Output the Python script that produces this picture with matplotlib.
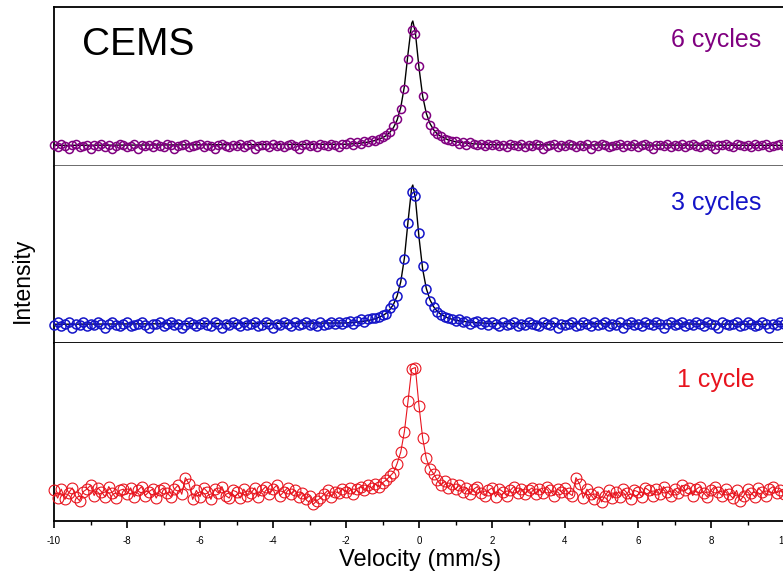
import numpy as np
import matplotlib
matplotlib.use("Agg")
import matplotlib.pyplot as plt
from matplotlib.ticker import MultipleLocator

plt.rcParams['font.family'] = ['Liberation Sans', 'DejaVu Sans']
plt.rcParams['axes.unicode_minus'] = False

# velocity channels, -10 .. 10 mm/s in 0.1 steps
velocity = np.linspace(-10, 10, 201)

# normalised CEMS counts (baseline 0, fitted peak 1)
cycles6 = [
    0.01, -0.01, 0.02, 0.00, -0.02, 0.01, 0.02, -0.01, 0.00, 0.01,
    -0.02, 0.01, 0.00, 0.02, -0.01, 0.01, -0.02, 0.00, 0.02, 0.01,
    -0.01, 0.00, 0.02, -0.02, 0.01, 0.00, 0.01, -0.01, 0.02, 0.00,
    -0.01, 0.02, 0.01, -0.02, 0.00, 0.01, 0.02, -0.01, 0.00, 0.01,
    0.02, -0.01, 0.01, 0.00, -0.02, 0.01, 0.02, 0.00, -0.01, 0.01,
    0.00, 0.02, -0.01, 0.01, 0.02, -0.02, 0.00, 0.01, 0.01, -0.01,
    0.02, 0.00, 0.01, -0.01, 0.01, 0.02, 0.00, -0.02, 0.01, 0.02,
    0.00, 0.01, -0.01, 0.02, 0.01, 0.00, 0.02, 0.01, -0.01, 0.02,
    0.02, 0.03, 0.01, 0.03, 0.02, 0.04, 0.03, 0.05, 0.04, 0.06,
    0.07, 0.09, 0.11, 0.16, 0.22, 0.30, 0.46, 0.70, 0.93, 0.90,
    0.64, 0.40, 0.25, 0.17, 0.12, 0.10, 0.08, 0.06, 0.05, 0.04,
    0.04, 0.02, 0.03, 0.01, 0.03, 0.02, 0.01, 0.02, 0.00, 0.02,
    0.01, 0.02, 0.00, 0.01, -0.01, 0.02, 0.01, 0.00, 0.02, -0.01,
    0.01, 0.00, 0.02, 0.01, -0.02, 0.00, 0.01, 0.02, -0.01, 0.01,
    0.00, 0.02, 0.01, -0.01, 0.01, 0.00, 0.02, -0.02, 0.01, 0.00,
    0.02, 0.01, -0.01, 0.00, 0.01, 0.02, -0.01, 0.01, 0.00, 0.02,
    -0.01, 0.01, 0.02, 0.00, -0.02, 0.01, 0.01, 0.00, 0.02, -0.01,
    0.01, 0.00, 0.02, -0.01, 0.01, 0.02, 0.00, -0.01, 0.01, 0.02,
    0.00, -0.02, 0.01, 0.01, 0.02, 0.00, -0.01, 0.02, 0.01, 0.00,
    0.01, -0.01, 0.02, 0.00, 0.01, 0.02, -0.01, 0.00, 0.01, 0.02, 0.00,
]

cycles3 = [
    0.00, 0.02, -0.01, 0.01, 0.02, -0.02, 0.01, 0.00, 0.02, -0.01,
    0.01, 0.00, 0.02, 0.01, -0.02, 0.01, 0.02, 0.00, -0.01, 0.01,
    0.02, -0.01, 0.00, 0.01, 0.02, 0.00, -0.02, 0.01, 0.01, 0.02,
    -0.01, 0.01, 0.02, 0.00, 0.01, -0.02, 0.00, 0.02, 0.01, -0.01,
    0.01, 0.02, 0.00, -0.01, 0.02, 0.01, -0.02, 0.01, 0.00, 0.02,
    0.01, -0.01, 0.02, 0.00, 0.01, 0.02, -0.01, 0.00, 0.02, 0.01,
    -0.02, 0.01, 0.00, 0.02, 0.01, -0.01, 0.02, 0.00, 0.01, 0.02,
    0.00, 0.01, -0.01, 0.02, 0.00, 0.01, 0.02, 0.01, 0.02, 0.01,
    0.02, 0.03, 0.01, 0.03, 0.04, 0.02, 0.04, 0.05, 0.05, 0.06,
    0.07, 0.08, 0.12, 0.15, 0.21, 0.31, 0.47, 0.73, 0.95, 0.92,
    0.66, 0.42, 0.26, 0.17, 0.13, 0.09, 0.07, 0.06, 0.05, 0.04,
    0.03, 0.04, 0.02, 0.03, 0.01, 0.02, 0.03, 0.01, 0.02, 0.00,
    0.02, 0.01, -0.01, 0.02, 0.00, 0.01, 0.02, -0.01, 0.01, 0.00,
    0.02, 0.01, 0.00, -0.01, 0.02, 0.01, 0.00, 0.02, -0.02, 0.01,
    0.00, 0.01, 0.02, -0.01, 0.00, 0.02, 0.01, -0.01, 0.02, 0.00,
    0.01, 0.02, -0.01, 0.01, 0.00, 0.02, -0.02, 0.01, 0.02, 0.00,
    0.01, -0.01, 0.02, 0.01, 0.00, 0.02, 0.01, -0.02, 0.01, 0.02,
    0.00, 0.01, 0.02, -0.01, 0.01, 0.00, 0.02, 0.01, -0.01, 0.02,
    0.01, 0.00, -0.02, 0.02, 0.01, 0.00, 0.01, 0.02, -0.01, 0.00,
    0.02, 0.01, -0.01, 0.00, 0.02, 0.01, -0.02, 0.01, 0.00, 0.02, 0.01,
]

cycles1 = [
    0.02, -0.04, 0.03, -0.05, 0.00, 0.04, -0.03, -0.06, 0.01, 0.03,
    0.06, -0.02, 0.04, 0.01, -0.03, 0.05, 0.00, -0.04, 0.02, 0.03,
    -0.01, 0.04, -0.03, 0.02, 0.05, -0.02, 0.01, 0.03, -0.04, 0.02,
    0.04, 0.00, -0.03, 0.03, 0.06, -0.01, 0.12, 0.07, -0.05, 0.02,
    -0.03, 0.04, 0.01, -0.05, 0.03, 0.00, 0.05, -0.02, -0.04, 0.02,
    0.01, -0.04, 0.03, -0.02, 0.00, 0.04, -0.03, 0.02, 0.05, -0.01,
    0.03, 0.06, -0.02, 0.01, 0.04, -0.01, 0.02, -0.03, 0.00, -0.05,
    -0.02, -0.09, -0.06, -0.04, -0.01, 0.02, -0.03, 0.01, 0.00, 0.03,
    0.01, 0.04, -0.01, 0.03, 0.05, 0.02, 0.06, 0.04, 0.07, 0.05,
    0.08, 0.10, 0.13, 0.16, 0.23, 0.32, 0.48, 0.72, 0.97, 0.98,
    0.68, 0.43, 0.27, 0.19, 0.15, 0.10, 0.06, 0.09, 0.04, 0.07,
    0.03, 0.06, 0.01, 0.04, -0.01, 0.03, 0.05, 0.00, -0.02, 0.02,
    0.04, -0.03, 0.03, 0.01, -0.02, 0.02, 0.05, 0.00, 0.03, -0.01,
    0.02, 0.04, -0.01, 0.03, 0.00, 0.05, 0.02, -0.02, 0.03, 0.01,
    0.04, 0.00, -0.02, 0.12, 0.07, -0.04, 0.03, -0.01, -0.05, 0.01,
    -0.07, -0.02, 0.02, -0.04, 0.01, -0.03, 0.03, 0.00, -0.05, 0.02,
    0.01, -0.03, 0.04, 0.02, -0.02, 0.03, -0.01, 0.05, 0.01, -0.02,
    0.03, 0.00, 0.06, 0.02, 0.04, -0.02, 0.03, 0.05, 0.00, -0.03,
    0.02, 0.05, 0.01, -0.02, 0.03, -0.01, -0.04, 0.02, -0.06, -0.02,
    0.03, 0.00, -0.03, 0.04, 0.01, -0.02, 0.03, 0.05, 0.00, 0.02, -0.01,
]

# single-line fit (Lorentzian singlet)
fit_v = [-10.0, -2.0, -1.8, -1.6, -1.4, -1.2, -1.0, -0.9, -0.8, -0.7, -0.6,
         -0.5, -0.4, -0.3, -0.2, -0.17, -0.1, 0.0, 0.1, 0.2, 0.3, 0.4, 0.5,
         0.6, 0.8, 1.0, 1.4, 2.0, 10.0]
fit_y = [0.005, 0.014, 0.018, 0.023, 0.031, 0.044, 0.066, 0.083, 0.109, 0.147,
         0.207, 0.308, 0.478, 0.741, 0.982, 1.0, 0.908, 0.626, 0.399, 0.261,
         0.180, 0.130, 0.097, 0.076, 0.049, 0.034, 0.019, 0.010, 0.005]

W, H = 783, 571
fig = plt.figure(figsize=(W / 100, H / 100), dpi=100)

left = 54 / W
width = 730 / W
# (top px, bottom px, ylim, data, colour, marker size, edge width, label)
panels = [
    (7, 166, (-0.16, 1.112), cycles6, '#800080', 5.8, 1.1, '6 cycles'),
    (166, 343, (-0.129, 1.136), cycles3, '#1414c8', 6.5, 1.1, '3 cycles'),
    (343, 521, (-0.219, 1.172), cycles1, '#e8141e', 7.8, 0.8, '1 cycle'),
]

axes = []
for k, (ptop, pbot, ylim, ydata, col, ms, mew, lab) in enumerate(panels):
    ax = fig.add_axes([left, 1 - pbot / H, width, (pbot - ptop) / H])
    ax.set_xlim(-10, 10)
    ax.set_ylim(*ylim)
    if k < 2:
        ax.plot(fit_v, fit_y, color='black', lw=1.0, zorder=2)
    else:
        ax.plot(velocity, ydata, color=col, lw=0.8, zorder=2)
    ax.plot(velocity, ydata, 'o', mfc='none', mec=col, mew=mew, ms=ms,
            zorder=3, clip_on=False)
    ax.text((716 - 54) / 730, 0.79, lab, transform=ax.transAxes,
            ha='center', va='center', fontsize=18, color=col)
    ax.set_yticks([])
    ax.spines['right'].set_visible(False)
    for s in ax.spines.values():
        s.set_linewidth(1.3)
    if k > 0:
        ax.spines['top'].set_visible(False)
    if k < 2:
        ax.tick_params(axis='x', which='both', bottom=False, labelbottom=False)
        ax.spines['bottom'].set_color('#606060' if k == 0 else 'black')
    axes.append(ax)

axes[0].text(0.038, 0.76, 'CEMS', transform=axes[0].transAxes,
             ha='left', va='center', fontsize=28)

axb = axes[2]
axb.xaxis.set_major_locator(MultipleLocator(2))
axb.xaxis.set_minor_locator(MultipleLocator(1))
axb.tick_params(axis='x', which='major', direction='out', length=5,
                width=1.2, labelsize=7, pad=6)
axb.tick_params(axis='x', which='minor', direction='out', length=3, width=1.0)

fig.text(420 / W, 1 - 560 / H, 'Velocity (mm/s)', ha='center', va='center',
         fontsize=17)
fig.text(22 / W, 1 - 280 / H, 'Intensity', ha='center', va='center',
         rotation=90, fontsize=16.5)

fig.savefig('out.png', dpi=100)
